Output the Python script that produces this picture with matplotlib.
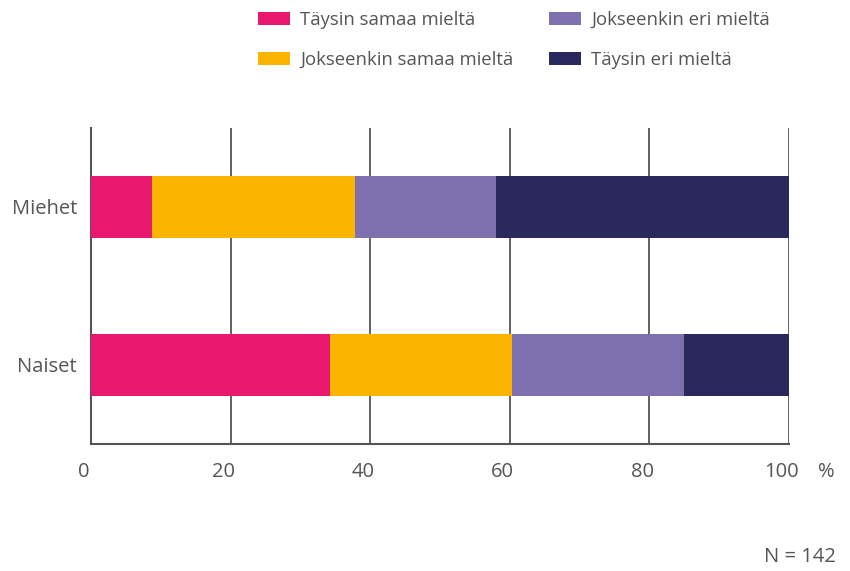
import matplotlib.pyplot as plt
import matplotlib.transforms as mtransforms
import numpy as np

plt.rcParams['font.family'] = ['Open Sans', 'DejaVu Sans']

groups = ['Miehet', 'Naiset']
series = ['Täysin samaa mieltä', 'Jokseenkin samaa mieltä', 'Jokseenkin eri mieltä', 'Täysin eri mieltä']
taysin_samaa = [8.7, 34.3]
jokseenkin_samaa = [29.2, 26.1]
jokseenkin_eri = [20.2, 24.6]
taysin_eri = [41.9, 15.0]
colors = ['#E8186F', '#FBB400', '#7E70AF', '#2A295E']

values = [taysin_samaa, jokseenkin_samaa, jokseenkin_eri, taysin_eri]
txt = '#555555'
fs = 14.5
fs_leg = 13.3

fig = plt.figure(figsize=(8.5, 5.71), dpi=100)
ax = fig.add_axes([0.107, 0.2224, 0.821, 0.5536])

y = np.arange(len(groups))
left = np.zeros(len(groups))
for name, vals, c in zip(series, values, colors):
    ax.barh(y, vals, left=left, height=0.39, color=c, label=name, zorder=3)
    left += np.array(vals)

ax.set_xlim(0, 100)
ax.set_ylim(1.5, -0.5)
ax.set_yticks(y)
ax.set_yticklabels(groups)
ax.set_xticks([0, 20, 40, 60, 80, 100])
ax.xaxis.grid(True, color='#555555', linewidth=1.3, zorder=0)
for s in ['top', 'right']:
    ax.spines[s].set_visible(False)
for s in ['left', 'bottom']:
    ax.spines[s].set_color('#555555')
    ax.spines[s].set_linewidth(1.5)
ax.tick_params(length=0, labelsize=fs, labelcolor=txt)
ax.tick_params(axis='x', pad=13)
ax.tick_params(axis='y', pad=10)

# tick labels sit a little left of their gridlines in the original
shift = mtransforms.ScaledTranslation(-7 / 100, 0, fig.dpi_scale_trans)
for lab in ax.get_xticklabels():
    lab.set_transform(lab.get_transform() + shift)

fig.text(826 / 850, 1 - 472 / 571, '%', ha='center', va='center', fontsize=fs, color=txt)
fig.text(836 / 850, 1 - 557 / 571, 'N = 142', ha='right', va='center', fontsize=fs, color=txt)

fig.legend(loc='upper left', bbox_to_anchor=(0.284, 1.01), ncol=2, frameon=False,
           fontsize=fs_leg, labelcolor=txt, handlelength=1.73, handleheight=0.7,
           labelspacing=1.18, columnspacing=1.95, handletextpad=0.54)

plt.savefig('out.png', dpi=100)
